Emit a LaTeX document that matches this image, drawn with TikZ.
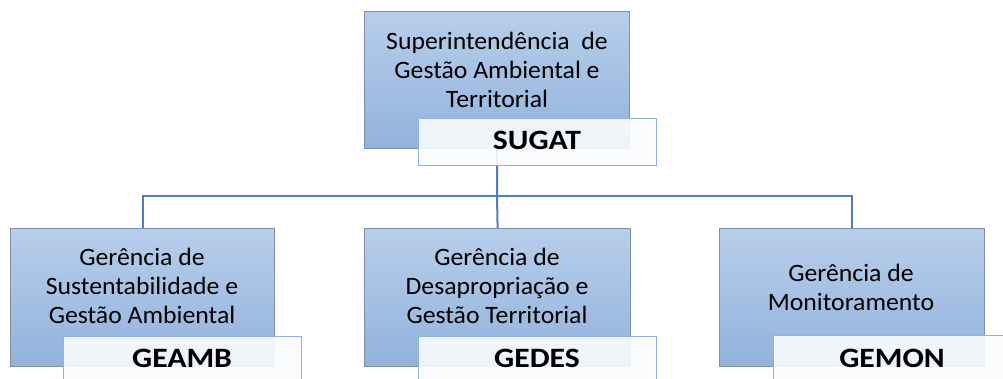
\documentclass[tikz,border=0pt]{standalone}
\usepackage{fontspec}
\usepackage{graphicx}
\setmainfont{Carlito}
\definecolor{boxtop}{HTML}{B7CEEA}
\definecolor{boxbot}{HTML}{92B2DC}
\definecolor{boxborder}{HTML}{7E8EA6}
\definecolor{connc}{HTML}{4F7FBA}
\definecolor{lblborder}{HTML}{8DB3E2}
\definecolor{lblfill}{HTML}{FAFCFE}
\newcommand{\wtxt}[1]{\scalebox{1.03}[1]{#1}}
\newcommand{\wlbl}[1]{\scalebox{1.13}[1]{#1}}
\begin{document}
\begin{tikzpicture}[x=1pt,y=-1pt,
  orgbox/.style={draw=boxborder, line width=1.2pt, top color=boxtop, bottom color=boxbot,
    minimum height=138pt, inner sep=0pt, anchor=north west},
  lblbox/.style={draw=lblborder, line width=1pt, fill=lblfill, fill opacity=0.9,
    minimum width=238pt, minimum height=47pt, inner sep=0pt, anchor=north west},
  boxtext/.style={align=center, inner sep=0pt, anchor=base, text=black,
    font=\fontsize{25}{29}\selectfont},
  lbltext/.style={inner sep=0pt, anchor=base, text=black,
    font=\fontsize{28}{32}\selectfont\bfseries},
  conn/.style={draw=connc, line width=2pt}]
\clip (0,0) rectangle (1003,378);
\useasboundingbox (0,0) rectangle (1003,378);
% main boxes
\node[orgbox, minimum width=265pt, minimum height=137pt] (sup) at (364,11) {};
\node[orgbox, minimum width=264pt] (geamb) at (10,228) {};
\node[orgbox, minimum width=266pt] (gedes) at (364,228) {};
\node[orgbox, minimum width=265pt] (gemon) at (719,228) {};
% connectors
\coordinate (bus) at (497,196);
\draw[conn] (sup.south) -- (bus);
\draw[conn] (bus) -| (geamb.north);
\draw[conn] (bus) -- (gedes.north);
\draw[conn] (bus) -| (gemon.north);
% label boxes
\node[lblbox] (suplbl) at (418,118) {};
\node[lblbox, minimum height=60pt] (geamblbl) at (63,336) {};
\node[lblbox, minimum height=60pt] (gedeslbl) at (418,336) {};
\node[lblbox, minimum height=60pt] (gemonlbl) at (773,335) {};
% texts (anchor base = baseline of the last line)
\node[boxtext] (suptext) at (497,107) {\wtxt{Superintendência\ \ de}\\\wtxt{Gestão Ambiental e}\\\wtxt{Territorial}};
\node[boxtext] (geambtext) at (142,323) {\wtxt{Gerência de}\\\wtxt{Sustentabilidade e}\\\wtxt{Gestão Ambiental}};
\node[boxtext] (gedestext) at (497,323) {\wtxt{Gerência de}\\\wtxt{Desapropriação e}\\\wtxt{Gestão Territorial}};
\node[boxtext] (gemontext) at (851,310) {\wtxt{Gerência de}\\\wtxt{Monitoramento}};
\node[lbltext] (suplbltext) at (537,149) {\wlbl{SUGAT}};
\node[lbltext] (geamblbltext) at (182,367) {\wlbl{GEAMB}};
\node[lbltext] (gedeslbltext) at (537,367) {\wlbl{GEDES}};
\node[lbltext] (gemonlbltext) at (892,367) {\wlbl{GEMON}};
\end{tikzpicture}
\end{document}
